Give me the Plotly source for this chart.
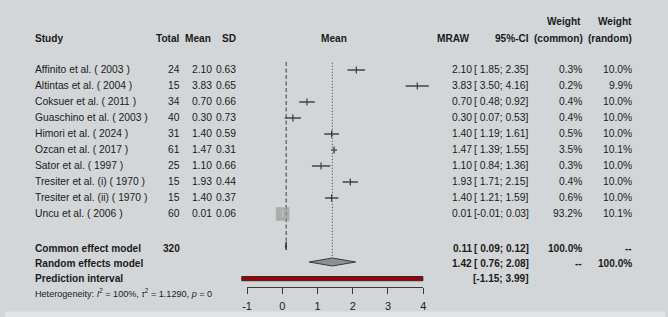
import plotly.graph_objects as go

# ---------------- data ----------------
studies = ["Affinito et al. ( 2003 )", "Altintas et al. ( 2004 )", "Coksuer et al. ( 2011 )",
           "Guaschino et al. ( 2003 )", "Himori et al. ( 2024 )", "Ozcan et al. ( 2017 )",
           "Sator et al. ( 1997 )", "Tresiter et al. (i) ( 1970 )", "Tresiter et al. (ii) ( 1970 )",
           "Uncu et al. ( 2006 )"]
total = [24, 15, 34, 40, 31, 61, 25, 15, 15, 60]
mean = [2.10, 3.83, 0.70, 0.30, 1.40, 1.47, 1.10, 1.93, 1.40, 0.01]
sd = [0.63, 0.65, 0.66, 0.73, 0.59, 0.31, 0.66, 0.44, 0.37, 0.06]
ci_lo = [1.85, 3.50, 0.48, 0.07, 1.19, 1.39, 0.84, 1.71, 1.21, -0.01]
ci_hi = [2.35, 4.16, 0.92, 0.53, 1.61, 1.55, 1.36, 2.15, 1.59, 0.03]
w_common = [0.3, 0.2, 0.4, 0.4, 0.5, 3.5, 0.3, 0.4, 0.6, 93.2]
w_random = [10.0, 9.9, 10.0, 10.0, 10.0, 10.1, 10.0, 10.0, 10.0, 10.1]

common_est, common_lo, common_hi, common_total = 0.11, 0.09, 0.12, 320
random_est, random_lo, random_hi = 1.42, 0.76, 2.08
pred_lo, pred_hi = -1.15, 3.99
tick_vals = [-1, 0, 1, 2, 3, 4]
heterogeneity = "Heterogeneity: <i>I</i><sup>2</sup> = 100%, <i>τ</i><sup>2</sup> = 1.1290, <i>p</i> = 0"

# ---------------- geometry ----------------
W, H = 668, 317
PX_L, PX_R = 245.0, 423.3          # pixel of x=-1 and x=4
U = (PX_R - PX_L) / 5.0
XR = [-1 - PX_L / U, 4 + (W - PX_R) / U]
ROW0, DY = 70.0, 16.0
YR = [(H - ROW0) / DY, -ROW0 / DY]
AXIS_PX = 286.5
PAD_L, PAD_R = 4.5, 4.0   # annotation inner padding compensation

FONT = "Liberation Sans, Arial, sans-serif"
TXT = "#1a1a1a"
LINE = "#3a3a3a"
BG = "#d3d6d8"
FS = 10.3
FSB = 10.1

n = len(studies)
rows = list(range(n))
ROW_COMMON, ROW_RANDOM, ROW_PRED, ROW_HET = n + 1.2, n + 2.15, n + 3.1, n + 3.97
ROW_HDR, ROW_HDR2 = -1.94, -2.97
TXT_DY = -0.05

fig = go.Figure()

# reference lines
fig.add_trace(go.Scatter(x=[common_est, common_est], y=[-0.5, n + 1.25], mode="lines",
                         line=dict(color=LINE, width=1, dash="4px,2.5px"), hoverinfo="skip", showlegend=False))
fig.add_trace(go.Scatter(x=[random_est, random_est], y=[-0.45, n + 2 - 0.25], mode="lines",
                         line=dict(color=LINE, width=1, dash="1px,2px"), hoverinfo="skip", showlegend=False))

# study CIs
fig.add_trace(go.Scatter(
    x=mean, y=rows, mode="markers",
    error_x=dict(type="data", symmetric=False,
                 array=[h - m for h, m in zip(ci_hi, mean)],
                 arrayminus=[m - l for l, m in zip(ci_lo, mean)],
                 color=LINE, thickness=1.4, width=0),
    marker=dict(symbol="square", color="#9a9a9a",
                size=[13.5 * (w / max(w_common)) ** 0.5 for w in w_common], line=dict(width=0)),
    hoverinfo="skip", showlegend=False))
# point ticks
fig.add_trace(go.Scatter(
    x=mean, y=rows, mode="markers",
    marker=dict(symbol="line-ns", size=5,
                line=dict(width=1.2, color=[LINE if w < 50 else "#c9c9c9" for w in w_common])),
    hoverinfo="skip", showlegend=False))

# common diamond
yc = n + 1
fig.add_trace(go.Scatter(x=[common_lo, common_est, common_hi, common_est, common_lo],
                         y=[yc, yc - 0.25, yc, yc + 0.25, yc],
                         mode="lines", fill="toself", fillcolor="#8c8c8c",
                         line=dict(color=LINE, width=1), hoverinfo="skip", showlegend=False))
# random diamond
yr = n + 2
fig.add_trace(go.Scatter(x=[random_lo, random_est, random_hi, random_est, random_lo],
                         y=[yr, yr - 0.25, yr, yr + 0.25, yr],
                         mode="lines", fill="toself", fillcolor="#8f8f8f",
                         line=dict(color=LINE, width=1), hoverinfo="skip", showlegend=False))
# prediction interval bar
yp = n + 3.04
fig.add_trace(go.Scatter(x=[pred_lo, pred_hi, pred_hi, pred_lo, pred_lo],
                         y=[yp - 0.13, yp - 0.13, yp + 0.13, yp + 0.13, yp - 0.13],
                         mode="lines", fill="toself", fillcolor="#a00000",
                         line=dict(color="#2a2a2a", width=1), hoverinfo="skip", showlegend=False))

# invisible trace to carry the visible axis
fig.add_trace(go.Scatter(x=[tick_vals[0], tick_vals[-1]], y=[0, 0], xaxis="x2", yaxis="y",
                         mode="markers", marker=dict(opacity=0), hoverinfo="skip", showlegend=False))

ann = []


def add(text, xpx, row, anchor="right", bold=False, size=None):
    if size is None:
        size = FSB if bold else FS
    if bold:
        text = "<b>" + text + "</b>"
    if anchor == "left":
        xpx -= PAD_L
    elif anchor == "right":
        xpx += PAD_R
    ann.append(dict(text=text, x=xpx / W, xref="paper", y=row + TXT_DY, yref="y", xanchor=anchor,
                    yanchor="middle", showarrow=False, font=dict(family=FONT, size=size, color=TXT)))


def ci_txt(lo, hi):
    f = lambda v: ("%.2f" % v) if v < 0 else (" %.2f" % v)
    return "[" + f(lo) + ";" + " %.2f" % hi + "]"


# headers
add("Study", 33, ROW_HDR, "left", True)
add("Total", 175, ROW_HDR, bold=True)
add("Mean", 207, ROW_HDR, bold=True)
add("SD", 232, ROW_HDR, bold=True)
add("Mean", 333, ROW_HDR, "center", True)
add("MRAW", 468, ROW_HDR, bold=True)
add("95%-CI", 528, ROW_HDR, bold=True)
add("Weight", 581, ROW_HDR2, bold=True)
add("(common)", 583, ROW_HDR, bold=True)
add("Weight", 633, ROW_HDR2, bold=True)
add("(random)", 633, ROW_HDR, bold=True)

for i in rows:
    add(studies[i], 33, i, "left")
    add(str(total[i]), 175, i)
    add("%.2f" % mean[i], 208, i)
    add("%.2f" % sd[i], 232, i)
    add("%.2f" % mean[i], 471, i)
    add(ci_txt(ci_lo[i], ci_hi[i]), 528, i)
    add("%.1f%%" % w_common[i], 582, i)
    add("%.1f%%" % w_random[i], 633, i)

add("Common effect model", 33, ROW_COMMON, "left", True)
add(str(common_total), 175, ROW_COMMON, bold=True)
add("%.2f" % common_est, 471, ROW_COMMON, bold=True)
add(ci_txt(common_lo, common_hi), 528, ROW_COMMON, bold=True)
add("100.0%", 582, ROW_COMMON, bold=True)
add("--", 633, ROW_COMMON, bold=True)

add("Random effects model", 33, ROW_RANDOM, "left", True)
add("%.2f" % random_est, 471, ROW_RANDOM, bold=True)
add(ci_txt(random_lo, random_hi), 528, ROW_RANDOM, bold=True)
add("--", 582, ROW_RANDOM, bold=True)
add("100.0%", 633, ROW_RANDOM, bold=True)

add("Prediction interval", 33, ROW_PRED, "left", True)
add(ci_txt(pred_lo, pred_hi), 528, ROW_PRED, bold=True)

add(heterogeneity, 33, ROW_HET, "left", False, 9.1)

fig.update_layout(
    width=W, height=H, margin=dict(l=0, r=0, t=0, b=0),
    paper_bgcolor=BG, plot_bgcolor="rgba(0,0,0,0)", showlegend=False,
    xaxis=dict(domain=[0, 1], range=XR, visible=False, fixedrange=True),
    yaxis=dict(domain=[0, 1], range=YR, visible=False, fixedrange=True),
    xaxis2=dict(domain=[PX_L / W, PX_R / W], range=[tick_vals[0], tick_vals[-1]], anchor="free",
                position=1 - AXIS_PX / H, side="bottom", showline=True, linecolor=LINE, linewidth=1,
                ticks="outside", ticklen=6, tickwidth=1, tickcolor=LINE, tickvals=tick_vals,
                ticktext=[str(t) for t in tick_vals], ticklabelstandoff=3,
                tickfont=dict(family=FONT, size=11, color=TXT), showgrid=False, zeroline=False,
                fixedrange=True),
    annotations=ann,
    shapes=[dict(type="rect", xref="paper", yref="paper", x0=0, x1=1, y0=0, y1=5.5 / H,
                 fillcolor="#e2e3e4", line=dict(width=0), layer="below")],
)

fig.write_html("out.html", config={"displayModeBar": False},
               post_script="document.body.style.margin='0';document.body.style.overflow='hidden';")
